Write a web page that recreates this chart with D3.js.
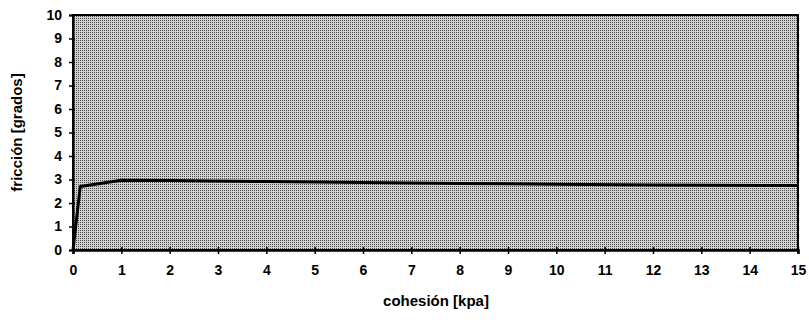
<!DOCTYPE html>
<html><head><meta charset="utf-8">
<script src="https://cdn.jsdelivr.net/npm/d3@7"></script>
<style>body{margin:0;background:#fff}</style>
</head><body>
<svg id="c" width="809" height="326"></svg>
<script>
const cohesion = [0, 0.15, 1, 2, 4, 6, 8, 10, 12, 15];
const friccion = [0, 2.7, 2.97, 2.96, 2.91, 2.87, 2.83, 2.8, 2.77, 2.74];
const xTicks = d3.range(0, 16);
const yTicks = d3.range(0, 11);

const svg = d3.select("#c");
const x = d3.scaleLinear().domain([0, 15]).range([73, 798]);
const y = d3.scaleLinear().domain([0, 10]).range([250, 15]);

const defs = svg.append("defs");
const pat = defs.append("pattern").attr("id", "stip").attr("width", 2).attr("height", 2).attr("patternUnits", "userSpaceOnUse");
pat.append("rect").attr("width", 2).attr("height", 2).attr("fill", "#d2d2d2");
pat.append("rect").attr("width", 1).attr("height", 1).attr("fill", "#4a4a4a");

svg.append("rect").attr("x", x(0)).attr("y", y(10)).attr("width", x(15) - x(0)).attr("height", y(0) - y(10))
  .attr("fill", "url(#stip)").attr("stroke", "#000").attr("stroke-width", 2);

const font = "'Liberation Sans', Arial, sans-serif";

const yAxis = svg.append("g").attr("transform", `translate(${x(0)},0)`)
  .call(d3.axisLeft(y).tickValues(yTicks).tickSize(4).tickPadding(7).tickFormat(d3.format("d")));
yAxis.selectAll("line").attr("stroke", "#000").attr("stroke-width", 1.5).attr("x2", -4).attr("x1", 2);
yAxis.select(".domain").attr("stroke-width", 2);
yAxis.selectAll("text").attr("font-family", font).attr("font-size", 14).attr("font-weight", "bold").attr("fill", "#000");

const xAxis = svg.append("g").attr("transform", `translate(0,${y(0)})`)
  .call(d3.axisBottom(x).tickValues(xTicks).tickSize(4).tickPadding(11).tickFormat(d3.format("d")));
xAxis.selectAll("line").attr("stroke", "#000").attr("stroke-width", 1.5).attr("y1", -3).attr("y2", 4);
xAxis.select(".domain").attr("stroke-width", 2.5);
xAxis.selectAll("text").attr("font-family", font).attr("font-size", 14).attr("font-weight", "bold").attr("fill", "#000");

const line = d3.line().x((d, i) => x(cohesion[i])).y(d => y(d));
svg.append("path").datum(friccion).attr("d", line).attr("fill", "none").attr("stroke", "#000").attr("stroke-width", 3).attr("stroke-linejoin", "round");

svg.append("text").attr("x", 436).attr("y", 306).attr("text-anchor", "middle")
  .attr("font-family", font).attr("font-size", 15).attr("font-weight", "bold").text("cohesión [kpa]");
svg.append("text").attr("transform", `translate(22,${(y(0) + y(10)) / 2}) rotate(-90)`).attr("text-anchor", "middle")
  .attr("font-family", font).attr("font-size", 15).attr("font-weight", "bold").text("fricción [grados]");
</script>
</body></html>
